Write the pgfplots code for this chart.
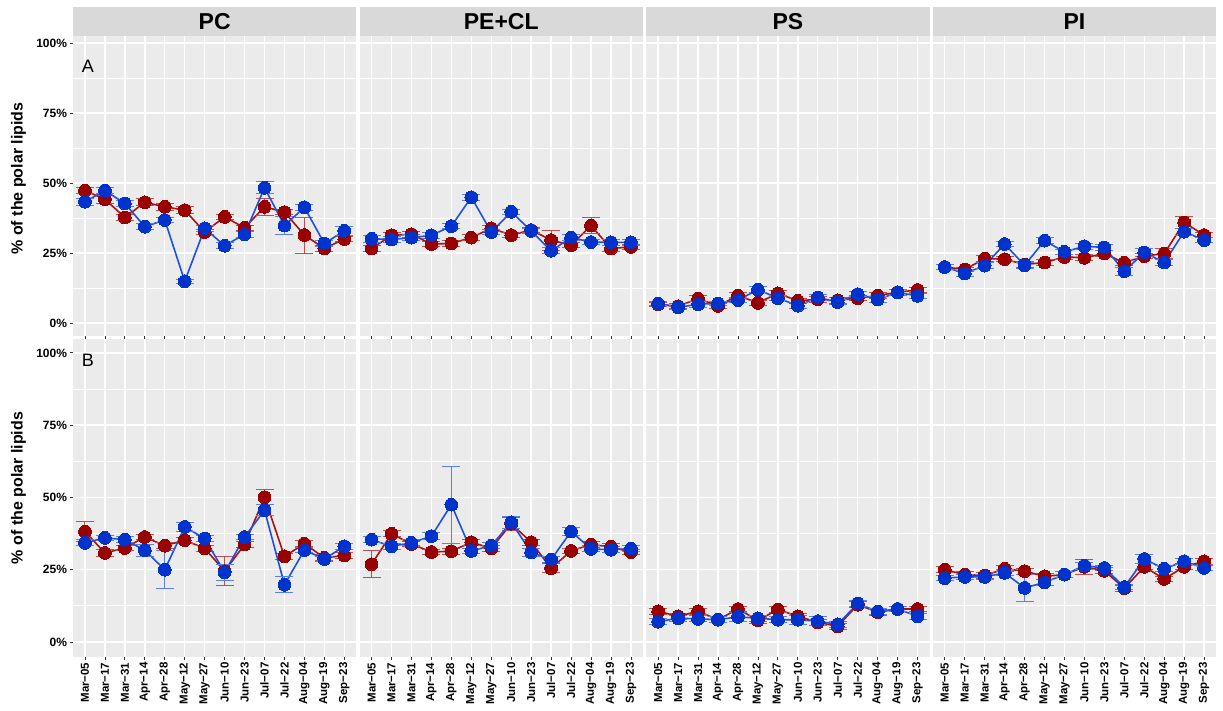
\documentclass[border=0pt]{standalone}
\usepackage{pgfplots}
\pgfplotsset{compat=1.18}
\usepackage{pgfplotstable}
\usepackage{fontspec}
\setmainfont{Liberation Sans}

\definecolor{panelbg}{HTML}{EBEBEB}
\definecolor{stripgray}{HTML}{D9D9D9}
\definecolor{tickgray}{HTML}{333333}
\definecolor{redM}{HTML}{990000}
\definecolor{redL}{HTML}{A81212}
\definecolor{redE}{HTML}{C05050}
\definecolor{blueM}{HTML}{0033CC}
\definecolor{blueL}{HTML}{1F50E0}
\definecolor{blueE}{HTML}{5A7FE6}

% x r re b be
\pgfplotstableread{
x r re b be
0 47.3 1.0 43.3 1.2
1 44.2 1.5 47.3 1.0
2 37.7 1.0 42.7 1.2
3 43.1 1.2 34.4 1.0
4 41.5 1.2 36.8 1.0
5 40.3 1.2 14.9 0.7
6 32.5 1.0 33.8 1.0
7 37.9 1.0 27.6 1.0
8 34.0 1.0 31.7 1.0
9 41.5 3.0 48.3 2.2
10 39.6 1.0 34.8 3.2
11 31.4 6.4 41.3 1.0
12 26.6 1.0 28.4 1.0
13 30.0 1.0 32.9 1.5
}\pcA
\pgfplotstableread{
x r re b be
0 26.6 1.0 30.1 1.2
1 31.3 1.0 29.8 1.0
2 31.7 1.0 30.5 1.0
3 28.2 1.0 31.3 1.0
4 28.4 1.0 34.6 1.0
5 30.5 1.0 44.9 1.0
6 33.8 1.2 32.5 1.0
7 31.4 1.0 39.7 0.8
8 33.2 1.0 32.9 1.0
9 29.6 3.6 25.8 1.0
10 27.8 1.0 30.5 1.2
11 34.8 3.0 28.9 1.0
12 26.6 1.0 28.8 1.0
13 27.2 1.0 28.8 1.0
}\peA
\pgfplotstableread{
x r re b be
0 6.7 0.8 6.9 0.8
1 6.0 0.8 5.6 0.8
2 8.7 1.0 6.7 1.0
3 6.1 0.8 7.0 0.8
4 9.8 1.0 8.2 1.0
5 7.2 0.8 11.9 1.0
6 10.6 1.0 8.9 1.0
7 7.9 1.0 6.2 1.0
8 8.5 1.0 9.1 1.0
9 8.1 1.0 7.5 1.0
10 8.9 1.0 10.3 1.0
11 9.8 1.0 8.4 1.0
12 11.0 1.0 10.9 1.0
13 11.8 1.0 9.7 1.0
}\psA
\pgfplotstableread{
x r re b be
0 20.0 0.8 20.0 0.8
1 19.1 0.8 17.7 1.0
2 23.0 1.0 20.5 1.0
3 22.8 1.0 28.2 1.0
4 20.9 1.0 20.6 1.0
5 21.6 1.0 29.4 1.0
6 23.6 1.0 25.4 1.0
7 23.3 1.0 27.4 1.0
8 24.8 1.0 27.0 1.2
9 21.5 1.0 18.5 1.5
10 23.9 1.0 25.2 1.5
11 24.8 1.8 21.6 1.0
12 35.9 2.0 32.6 1.2
13 31.4 1.0 29.6 1.0
}\piA
\pgfplotstableread{
x r re b be
0 38.2 3.6 34.3 1.0
1 30.8 1.2 36.0 1.0
2 32.5 1.0 35.4 1.0
3 36.3 1.0 31.7 2.0
4 33.3 1.0 25.0 6.5
5 35.2 1.0 39.8 1.5
6 32.4 1.0 35.8 1.0
7 24.5 5.1 24.1 2.8
8 33.7 1.0 36.3 1.0
9 50.1 2.6 45.6 2.0
10 29.6 1.0 19.8 2.8
11 34.0 1.0 31.8 1.0
12 29.1 1.0 28.7 1.0
13 29.9 1.0 33.1 1.0
}\pcB
\pgfplotstableread{
x r re b be
0 26.9 4.7 35.4 1.0
1 37.4 1.0 33.1 1.0
2 33.9 1.0 34.3 1.0
3 31.1 1.0 36.6 1.2
4 31.4 1.0 47.5 13.3
5 34.5 1.0 31.5 1.0
6 32.4 1.0 33.3 1.0
7 40.9 2.2 41.4 2.0
8 34.5 1.0 31.0 1.5
9 25.5 1.5 28.5 1.0
10 31.5 1.0 38.2 1.5
11 33.7 1.0 32.2 1.0
12 32.9 1.0 31.9 1.0
13 31.1 1.0 32.3 1.0
}\peB
\pgfplotstableread{
x r re b be
0 10.6 1.0 7.0 1.0
1 8.9 1.0 8.2 1.0
2 10.6 1.0 8.0 1.0
3 7.7 1.0 7.7 1.0
4 11.4 1.0 8.7 1.5
5 7.5 1.0 8.2 1.0
6 11.2 1.0 7.7 1.0
7 8.9 1.0 7.7 1.5
8 6.8 1.0 7.2 1.5
9 5.4 1.0 6.1 1.0
10 12.9 1.0 13.3 1.0
11 10.3 1.0 10.5 1.0
12 11.4 1.0 11.4 1.0
13 11.4 1.0 8.9 1.0
}\psB
\pgfplotstableread{
x r re b be
0 25.0 1.0 22.1 1.0
1 23.3 1.0 22.5 1.0
2 23.0 1.0 22.5 1.0
3 25.3 1.0 23.9 1.0
4 24.5 1.0 18.7 4.6
5 22.7 1.0 20.6 1.0
6 23.3 1.0 23.3 1.0
7 26.0 2.5 26.4 1.2
8 24.6 1.0 25.6 1.0
9 18.6 1.0 19.0 1.0
10 26.0 1.0 28.7 1.5
11 21.8 1.0 25.3 1.0
12 26.0 1.0 27.9 1.0
13 27.9 1.0 25.6 1.0
}\piB

\pgfplotsset{
  panel/.style={
    scale only axis, width=141.65pt,
    xmin=-0.6, xmax=13.6,
    axis background/.style={fill=panelbg},
    axis line style={draw=none},
    grid=both,
    major grid style={white, line width=0.7pt},
    minor grid style={white, line width=0.35pt},
    xtick={0,...,13},
    ytick={0,25,50,75,100},
    minor ytick={12.5,37.5,62.5,87.5},
    minor tick length=0pt,
    tick align=outside,
    major tick length=1.6pt,
    tick style={tickgray, line width=0.4pt},
    tick pos=left,
  },
  panelA/.style={panel, height=150pt, ymin=-4.64, ymax=102.5, xticklabels={}},
  panelB/.style={panel, height=159pt, ymin=-5.2, ymax=104.8,
    xticklabels={Mar−05,Mar−17,Mar−31,Apr−14,Apr−28,May−12,May−27,Jun−10,Jun−23,Jul−07,Jul−22,Aug−04,Aug−19,Sep−23},
    xticklabel style={rotate=90, anchor=east, font=\bfseries\fontsize{5.75}{6}\selectfont, inner sep=1pt}},
  leftp/.style={yticklabels={0\%,25\%,50\%,75\%,100\%},
    yticklabel style={font=\bfseries\fontsize{6}{7}\selectfont, inner sep=1.2pt}},
  otherp/.style={yticklabels={}, ytick style={draw=none}},
  redser/.style={color=redL, line width=0.8pt, mark=*, mark size=3.2pt,
    mark options={fill=redM, draw=redM, line width=0pt},
    /pgfplots/error bars/y dir=both, /pgfplots/error bars/y explicit,
    /pgfplots/error bars/error mark=-,
    /pgfplots/error bars/error bar style={redE, line width=0.5pt},
    /pgfplots/error bars/error mark options={redE, rotate=90, mark size=4.5pt, line width=0.5pt}},
  blueser/.style={color=blueL, line width=0.8pt, mark=*, mark size=3.2pt,
    mark options={fill=blueM, draw=blueM, line width=0pt},
    /pgfplots/error bars/y dir=both, /pgfplots/error bars/y explicit,
    /pgfplots/error bars/error mark=-,
    /pgfplots/error bars/error bar style={blueE, line width=0.5pt},
    /pgfplots/error bars/error mark options={blueE, rotate=90, mark size=4.5pt, line width=0.5pt}},
}

\newcommand{\twoser}[1]{%
  \addplot[redser] table[x=x, y=r, y error=re] {#1};
  \addplot[blueser] table[x=x, y=b, y error=be] {#1};
}

\begin{document}
\begin{tikzpicture}
\useasboundingbox (0,0) rectangle (611.5pt,-355.5pt);

% strips
\foreach \xl/\lab in {36.5/PC, 179.8/PE+CL, 323.1/PS, 466.4/PI}{
  \fill[stripgray] (\xl pt,-3.5pt) rectangle ({\xl pt+141.65pt},-18pt);
  \node[font=\bfseries\fontsize{11.5}{12}\selectfont, text=black] at ({\xl pt+70.83pt},-10.9pt) {\lab};
}

% Row A
\begin{axis}[panelA, leftp, at={(36.5pt,-168pt)}, anchor=south west]
\twoser{\pcA}
\end{axis}
\begin{axis}[panelA, otherp, at={(179.8pt,-168pt)}, anchor=south west]
\twoser{\peA}
\end{axis}
\begin{axis}[panelA, otherp, at={(323.1pt,-168pt)}, anchor=south west]
\twoser{\psA}
\end{axis}
\begin{axis}[panelA, otherp, at={(466.4pt,-168pt)}, anchor=south west]
\twoser{\piA}
\end{axis}

% Row B
\begin{axis}[panelB, leftp, at={(36.5pt,-328.5pt)}, anchor=south west]
\twoser{\pcB}
\end{axis}
\begin{axis}[panelB, otherp, at={(179.8pt,-328.5pt)}, anchor=south west]
\twoser{\peB}
\end{axis}
\begin{axis}[panelB, otherp, at={(323.1pt,-328.5pt)}, anchor=south west]
\twoser{\psB}
\end{axis}
\begin{axis}[panelB, otherp, at={(466.4pt,-328.5pt)}, anchor=south west]
\twoser{\piB}
\end{axis}

% panel tags and y labels
\node[font=\fontsize{9}{10}\selectfont] at (44pt,-33pt) {A};
\node[font=\fontsize{9}{10}\selectfont] at (44pt,-180pt) {B};
\node[rotate=90, font=\bfseries\fontsize{8}{9}\selectfont] at (9.25pt,-89.25pt) {\% of the polar lipids};
\node[rotate=90, font=\bfseries\fontsize{8}{9}\selectfont] at (9.25pt,-244pt) {\% of the polar lipids};
\end{tikzpicture}
\end{document}
